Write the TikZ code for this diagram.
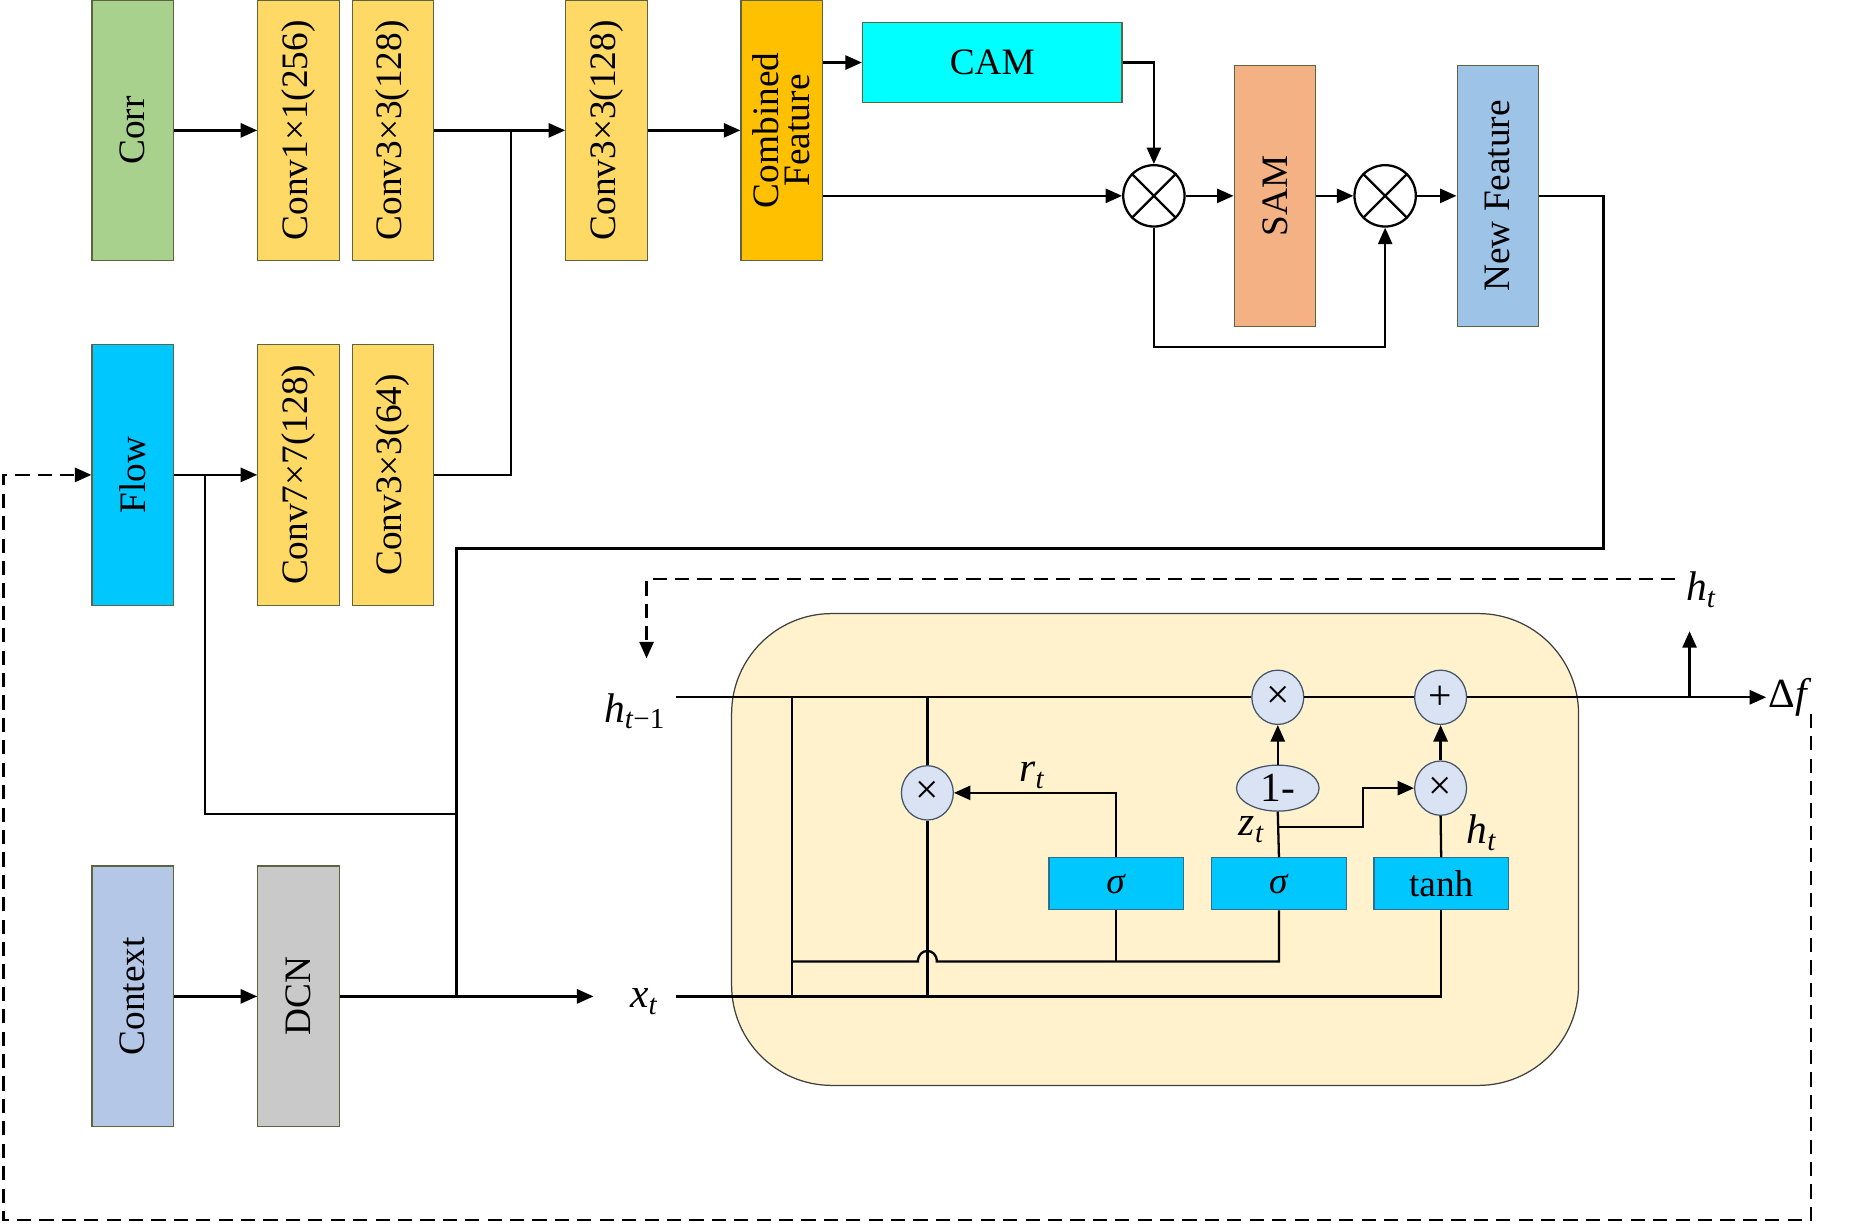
\documentclass[tikz,border=0pt]{standalone}
\usepackage{fontspec}
\setmainfont{Liberation Serif}
\usepackage{graphicx}
\usetikzlibrary{arrows.meta,shapes.geometric,positioning}

\definecolor{edgec}{HTML}{5E6440}
\definecolor{corrc}{HTML}{A9D18E}
\definecolor{convc}{HTML}{FFD966}
\definecolor{combc}{HTML}{FFC000}
\definecolor{camc}{HTML}{00FFFF}
\definecolor{samc}{HTML}{F4B183}
\definecolor{newc}{HTML}{9DC3E6}
\definecolor{flowc}{HTML}{00C8FF}
\definecolor{ctxc}{HTML}{B4C7E7}
\definecolor{dcnc}{HTML}{C9C9C9}
\definecolor{gruc}{HTML}{FFF2CC}
\definecolor{opc}{HTML}{DAE3F3}
\definecolor{opedge}{HTML}{44546A}
\definecolor{gateedge}{HTML}{2E6E8E}

\newcommand{\vtext}[1]{\rotatebox{90}{#1}}

\begin{document}
\begin{tikzpicture}[
    x=0.02cm, y=-0.02cm,
    font=\fontsize{18}{20}\selectfont,
    block/.style={draw=edgec, line width=0.6pt, minimum width=1.38cm,
                  minimum height=4.42cm, inner sep=0pt},
    arr/.style={-{Triangle[length=0.28cm,width=0.24cm]}, line width=1.1pt},
    ln/.style={line width=1.1pt},
    dsh/.style={dash pattern=on 0.24cm off 0.14cm},
    xop/.style={circle, draw, line width=1.1pt, fill=white,
                minimum size=1.04cm, inner sep=0pt},
    op/.style={ellipse, draw=opedge, line width=0.6pt, fill=opc,
               minimum width=0.88cm, minimum height=0.92cm, inner sep=0pt,
               font=\fontsize{20}{22}\selectfont},
    gate/.style={draw=gateedge, line width=0.6pt, fill=flowc,
                 minimum width=2.28cm, minimum height=0.88cm, inner sep=0pt},
    lbl/.style={inner sep=1pt, font=\fontsize{20}{22}\selectfont}
]
\useasboundingbox (0,0) rectangle (1568,1037);

\node[block, fill=corrc] (corr) at (112.5,110.5) {\vtext{Corr}};
\node[block, fill=convc] (conv1) at (253,110.5) {\vtext{Conv1×1(256)}};
\node[block, fill=convc] (conv2) at (333,110.5) {\vtext{Conv3×3(128)}};
\node[block, fill=convc] (conv3) at (514,110.5) {\vtext{Conv3×3(128)}};
\node[block, fill=combc] (comb) at (662.5,110.5) {\vtext{\shortstack{Combined\\Feature}}};
\node[block, fill=camc, minimum width=4.4cm, minimum height=1.36cm] (cam) at (841,53) {CAM};
\node[xop] (mul1) at (978,166) {};
\node[block, fill=samc] (sam) at (1080.5,166) {\vtext{SAM}};
\node[xop] (mul2) at (1174,166) {};
\node[block, fill=newc] (newf) at (1269.5,166) {\vtext{New Feature}};
\node[block, fill=flowc] (flow) at (112.5,402.5) {\vtext{Flow}};
\node[block, fill=convc] (conv4) at (253,402.5) {\vtext{Conv7×7(128)}};
\node[block, fill=convc] (conv5) at (333,402.5) {\vtext{Conv3×3(64)}};
\node[block, fill=ctxc] (ctx) at (112.5,844.5) {\vtext{Context}};
\node[block, fill=dcnc] (dcn) at (253,844.5) {\vtext{DCN}};
\foreach \m in {mul1,mul2}
    \draw[line width=1.1pt] (\m.45) -- (\m.225) (\m.135) -- (\m.315);

\node[draw=black!75, fill=gruc, line width=0.6pt, rounded corners=1.7cm,
      minimum width=14.36cm, minimum height=8cm] (gru) at (979,720) {};
\node[op] (mulh) at (1083,591) {×};
\node[op] (add) at (1221,591) {+};
\node[op] (mulr) at (786,672) {×};
\node[op, minimum width=1.4cm, minimum height=0.78cm] (onem) at (1083,668) {1-};
\node[op] (mulz) at (1221,668) {×};
\node[gate] (sig1) at (946,749) {\textit{σ}};
\node[gate] (sig2) at (1084,749) {\textit{σ}};
\node[gate] (tanh) at (1221.5,749) {tanh};

\node[lbl] (hprev) at (538,603) {\textit{h}\textsubscript{\textit{t}−1}};
\node[lbl] (xt) at (546,849) {\textit{x}\textsubscript{\textit{t}}};
\node[lbl] (ht) at (1442,500) {\textit{h}\textsubscript{\textit{t}}};
\node[lbl, anchor=west] (df) at (1497,591) {Δ\textit{f}};
\node[lbl] (rt) at (875,657) {\textit{r}\textsubscript{\textit{t}}};
\node[lbl] (zt) at (1061,703) {\textit{z}\textsubscript{\textit{t}}};
\node[lbl] (htl) at (1256,706) {\textit{h}\textsubscript{\textit{t}}};

\coordinate (j1) at (433,110.5);
\coordinate (lp) at (978,294);
\coordinate (nf1) at (1359,465);
\coordinate (nf2) at (387,465);
\coordinate (jx) at (387,844.5);
\coordinate (fj) at (174,402.5);
\coordinate (fk) at (387,690);
\coordinate (xe) at (503,844.5);
\coordinate (db) at (1535,605);
\coordinate (dl) at (3,1034);
\coordinate (hs) at (573,591);
\coordinate (xs) at (573,844.5);
\coordinate (c1) at (671,591);
\coordinate (c2) at (671,844.5);
\coordinate (r1) at (786,591);
\coordinate (r2) at (786,844.5);
\coordinate (bus) at (671,815);
\coordinate (bm1) at (778,815);
\coordinate (bm2) at (794,815);
\coordinate (zb) at (1084,701);
\coordinate (zc) at (1155,701);
\coordinate (hb) at (1432,591);
\coordinate (hu) at (1432,535);
\coordinate (fb1) at (1420,491);
\coordinate (fb2) at (548,491);
\coordinate (fb3) at (548,558);

\draw[arr] (corr) -- (conv1);
\draw[arr] (conv2) -- (conv3);
\draw[ln] (conv5.east) -| (j1);
\draw[arr] (conv3) -- (comb);
\draw[arr] (comb.east |- cam.west) -- (cam.west);
\draw[arr] (comb.east |- mul1.west) -- (mul1.west);
\draw[arr] (cam.east) -| (mul1.north);
\draw[arr] (mul1) -- (sam);
\draw[arr] (sam) -- (mul2);
\draw[arr] (mul2) -- (newf);
\draw[arr] (mul1.south) -- (lp) -| (mul2.south);
\draw[ln] (newf.east) -| (nf1) -- (nf2) -- (jx);
\draw[arr] (flow) -- (conv4);
\draw[ln] (fj) |- (fk);
\draw[arr] (ctx) -- (dcn);
\draw[arr] (dcn) -- (xe);
\draw[dsh, arr] (db) |- (dl) |- (flow.west);

\draw[ln] (hs) -- (mulh) -- (add);
\draw[arr] (add) -- (df.west);
\draw[arr] (hb) -- (hu);
\draw[dsh, arr] (fb1) -- (fb2) -- (fb3);
\draw[ln] (xs) -| (tanh.south);
\draw[ln] (c1) -- (c2);
\draw[ln] (r1) -- (mulr) -- (r2);
\draw[arr] (sig1.north) |- (mulr.east);
\draw[ln] (sig1.south) -- (sig1.south |- bus);
\draw[ln] (bus) -- (bm1) .. controls +(0,-12) and +(0,-12) .. (bm2)
    -- (sig2.south |- bus) -- (sig2.south);
\draw[ln] (sig2.north) -- (onem.south);
\draw[arr] (onem) -- (mulh);
\draw[arr] (zb) -- (zc) |- (mulz.west);
\draw[ln] (tanh.north) -- (mulz.south);
\draw[arr] (mulz) -- (add);
\end{tikzpicture}
\end{document}
